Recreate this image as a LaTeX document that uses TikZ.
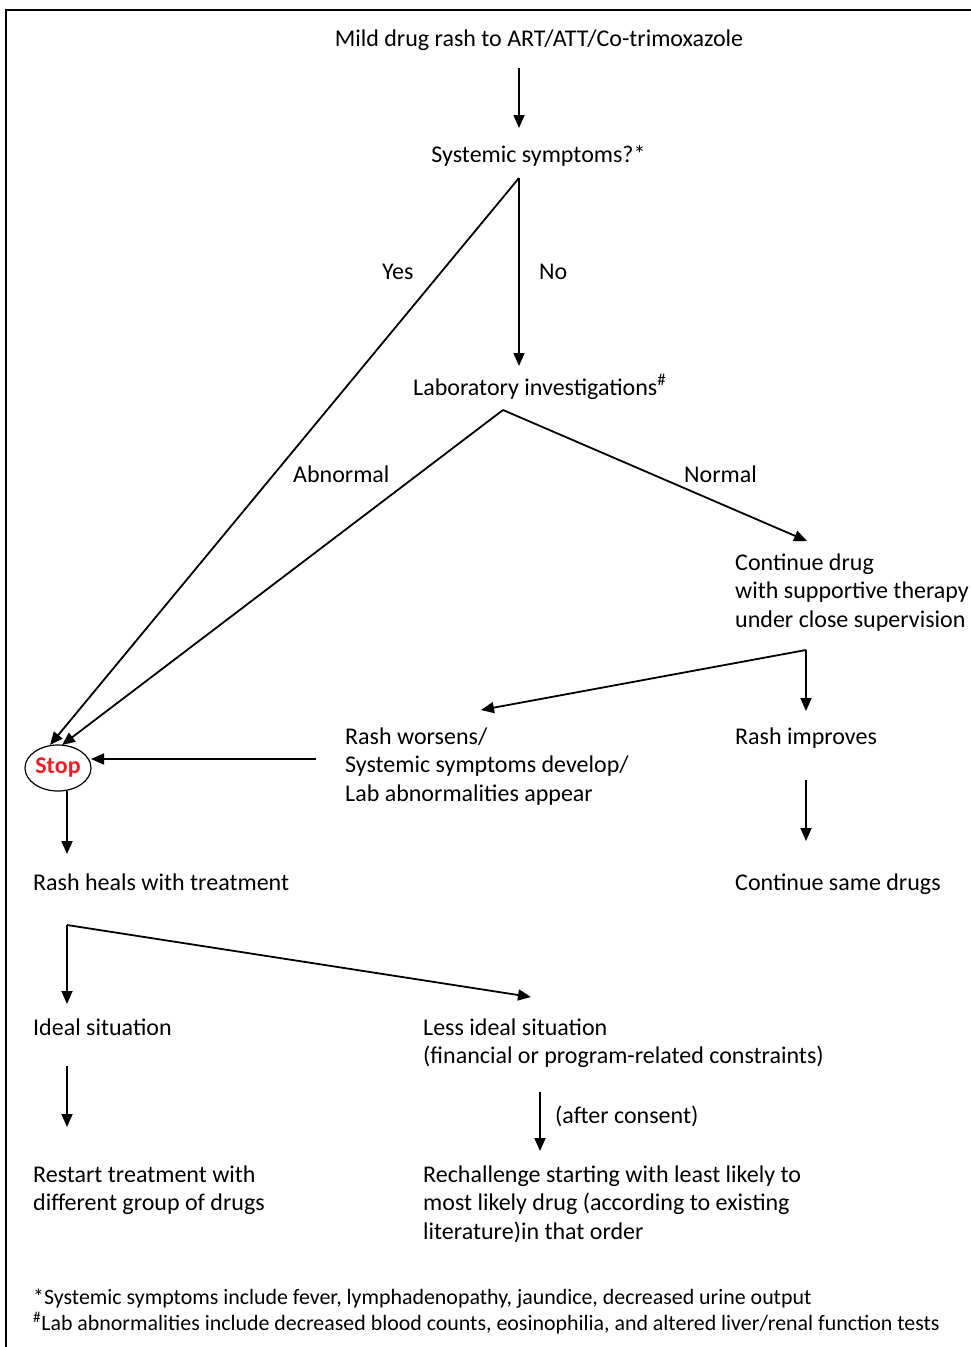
\documentclass[tikz,border=0pt]{standalone}
\usepackage{fontspec}
\setmainfont{Carlito}
\usetikzlibrary{arrows.meta,shapes.geometric}
\definecolor{stopred}{RGB}{237,28,36}
\begin{document}
\begin{tikzpicture}[x=1pt,y=-1pt,
  txt/.style={font=\fontsize{24}{28.5}\selectfont, inner sep=0pt, align=left, anchor=base west},
  ctxt/.style={font=\fontsize{24}{28.5}\selectfont, inner sep=0pt, anchor=base},
  fn/.style={font=\fontsize{21.9}{26}\selectfont, inner sep=0pt, anchor=base west},
  conn/.style={line width=1.8pt, -{Triangle[length=13pt,width=11pt]}},
  frame/.style={line width=2.5pt}
]
\useasboundingbox (0,0) rectangle (971,1347);
% frame
\draw[frame] (5,10) -- (971,10);
\draw[frame] (6,10) -- (6,1347);

% text nodes (multi-line nodes are anchored at the baseline of their last line)
\node[ctxt] (title) at (539,46) {Mild drug rash to ART/ATT/Co-trimoxazole};
\node[ctxt] (sys) at (538.5,162) {Systemic symptoms?*};
\node[txt] (lab) at (413,395) {Laboratory investigations\textsuperscript{\#}};
\node[txt] (cont) at (735,627) {Continue drug\\with supportive therapy\\under close supervision};
\node[txt] (worse) at (345,801) {Rash worsens/\\Systemic symptoms develop/\\Lab abnormalities appear};
\node[txt] (improve) at (735,744) {Rash improves};
\node[txt] (same) at (735,890) {Continue same drugs};
\node[draw, ellipse, line width=1.2pt, minimum width=66pt, minimum height=46pt, inner sep=0pt,
      font=\fontsize{24}{26}\selectfont\bfseries, text=stopred] (stop) at (58,768) {Stop};
\node[txt] (heals) at (33,890) {Rash heals with treatment};
\node[txt] (ideal) at (33,1035) {Ideal situation};
\node[txt] (less) at (423,1063.5) {Less ideal situation\\(financial or program-related constraints)};
\node[txt] (restart) at (33,1210.5) {Restart treatment with\\different group of drugs};
\node[txt] (rech) at (423,1239) {Rechallenge starting with least likely to\\most likely drug (according to existing\\literature)in that order};
\node[fn] (fn1) at (33,1304) {*Systemic symptoms include fever, lymphadenopathy, jaundice, decreased urine output};
\node[fn] (fn2) at (33,1330) {\textsuperscript{\#}Lab abnormalities include decreased blood counts, eosinophilia, and altered liver/renal function tests};

% labels
\node[txt] (yes) at (382,279) {Yes};
\node[txt] (no) at (539,279) {No};
\node[txt] (abn) at (293,482) {Abnormal};
\node[txt] (nor) at (684,482) {Normal};
\node[txt] (cons) at (555,1123) {(after consent)};

% coordinates
\coordinate (t1) at (519,68);
\coordinate (t2) at (519,128);
\coordinate (s0) at (519,178);
\coordinate (stopA) at (50,745);
\coordinate (stopB) at (62,745);
\coordinate (labin) at (519,366);
\coordinate (l0) at (503,410);
\coordinate (contin) at (807,541);
\coordinate (c0) at (806,650);
\coordinate (impin) at (806,711);
\coordinate (worin) at (481,710);
\coordinate (w0) at (316,759);
\coordinate (stopR) at (91,759);
\coordinate (i0) at (806,780);
\coordinate (i1) at (806,841);
\coordinate (st0) at (67,791);
\coordinate (st1) at (67,854);
\coordinate (h0) at (67,925);
\coordinate (h1) at (67,1004);
\coordinate (h2) at (531,997);
\coordinate (id0) at (67,1066);
\coordinate (id1) at (67,1127);
\coordinate (r0) at (540,1092);
\coordinate (r1) at (540,1151);

% connectors
\draw[conn] (t1) -- (t2);
\draw[conn] (s0) -- (stopA);
\draw[conn] (s0) -- (labin);
\draw[conn] (l0) -- (stopB);
\draw[conn] (l0) -- (contin);
\draw[conn] (c0) -- (impin);
\draw[conn] (c0) -- (worin);
\draw[conn] (w0) -- (stopR);
\draw[conn] (i0) -- (i1);
\draw[conn] (st0) -- (st1);
\draw[conn] (h0) -- (h1);
\draw[conn] (h0) -- (h2);
\draw[conn] (id0) -- (id1);
\draw[conn] (r0) -- (r1);
\end{tikzpicture}
\end{document}
